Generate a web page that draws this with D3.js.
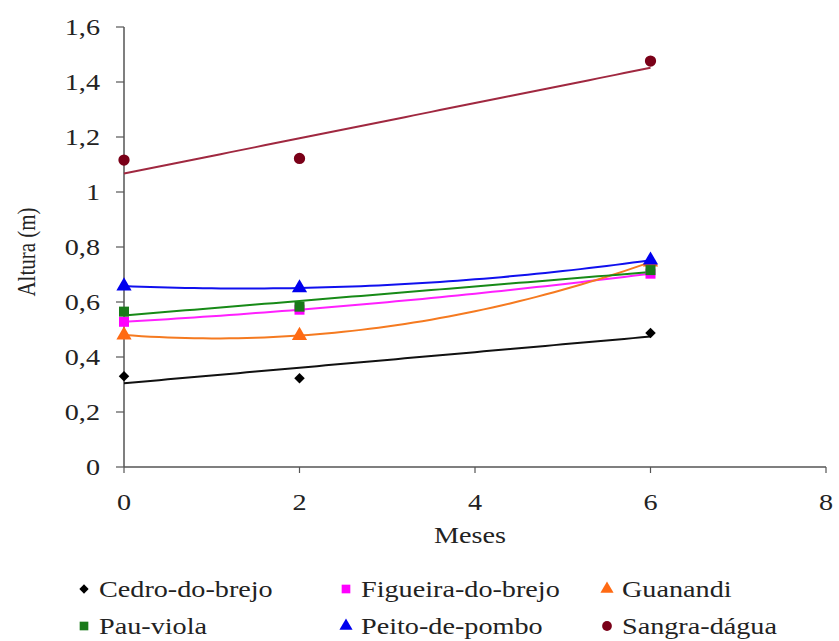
<!DOCTYPE html>
<html><head><meta charset="utf-8">
<script src="https://cdn.jsdelivr.net/npm/d3@7"></script>
<style>body{margin:0;background:#fff}</style>
</head><body>
<script>
const months = [0, 2, 6];
const seriesNames = ["Cedro-do-brejo", "Figueira-do-brejo", "Guanandi", "Pau-viola", "Peito-de-pombo", "Sangra-dágua"];
const cedro    = [0.330, 0.323, 0.487];
const figueira = [0.528, 0.572, 0.703];
const guanandi = [0.480, 0.478, 0.745];
const pauViola = [0.565, 0.583, 0.716];
const peito    = [0.658, 0.651, 0.752];
const sangra   = [1.116, 1.122, 1.476];
const xTicks = [0, 2, 4, 6, 8];
const yTicks = [0, 0.2, 0.4, 0.6, 0.8, 1, 1.2, 1.4, 1.6];
const trendOrder = [1, 2, 2, 1, 2, 1];

const values = [cedro, figueira, guanandi, pauViola, peito, sangra];
const markerColors = ["#000000", "#ff00ff", "#ff6a13", "#1a7a1a", "#0000ee", "#7a0018"];
const lineColors = ["#111111", "#ff20ff", "#f57a20", "#178a17", "#1010ee", "#a02840"];
const symbols = [d3.symbolDiamond2, d3.symbolSquare, d3.symbolTriangle, d3.symbolSquare, d3.symbolTriangle, d3.symbolCircle];

const W = 839, H = 641;
const svg = d3.select("body").append("svg").attr("width", W).attr("height", H);
const x = d3.scaleLinear().domain([0, 8]).range([124, 826]);
const y = d3.scaleLinear().domain([0, 1.6]).range([467, 27]);
const SX = 1.2;
const FS = 23.5;
const font = "'Liberation Serif','Times New Roman',serif";
const axisColor = "#555";

function stext(px, py, str, anchor, size) {
  return svg.append("text").attr("transform", `translate(${px},${py}) scale(${SX},1)`)
    .attr("text-anchor", anchor).attr("dominant-baseline", "central")
    .attr("font-family", font).attr("font-size", size).attr("fill", "#222").text(str);
}

// axes
svg.append("line").attr("x1", x(0)).attr("x2", x(8)).attr("y1", y(0)).attr("y2", y(0)).attr("stroke", axisColor).attr("stroke-width", 1.5);
svg.append("line").attr("x1", x(0)).attr("x2", x(0)).attr("y1", y(0)).attr("y2", y(1.6)).attr("stroke", axisColor).attr("stroke-width", 1.5);
yTicks.forEach(t => {
  svg.append("line").attr("x1", x(0) - 8).attr("x2", x(0)).attr("y1", y(t)).attr("y2", y(t)).attr("stroke", axisColor).attr("stroke-width", 1.2);
  stext(100, y(t), String(+t.toFixed(1)).replace(".", ","), "end", FS);
});
xTicks.forEach(t => {
  svg.append("line").attr("x1", x(t)).attr("x2", x(t)).attr("y1", y(0)).attr("y2", y(0) + 6).attr("stroke", axisColor).attr("stroke-width", 1.2);
  stext(x(t), 502, String(t), "middle", FS);
});
stext(470, 535, "Meses", "middle", FS);
svg.append("text").attr("transform", `translate(26,252) rotate(-90) scale(1,${SX})`)
  .attr("text-anchor", "middle").attr("dominant-baseline", "central")
  .attr("font-family", font).attr("font-size", 21).attr("fill", "#222").text("Altura (m)");

// polynomial least squares fit
function polyfit(xs, ys, deg) {
  const n = deg + 1;
  const A = Array.from({length: n}, () => new Array(n + 1).fill(0));
  for (let i = 0; i < n; i++) {
    for (let j = 0; j < n; j++) A[i][j] = d3.sum(xs, xv => Math.pow(xv, i + j));
    A[i][n] = d3.sum(xs.map((xv, k) => ys[k] * Math.pow(xv, i)));
  }
  for (let i = 0; i < n; i++) {
    let p = i;
    for (let r = i + 1; r < n; r++) if (Math.abs(A[r][i]) > Math.abs(A[p][i])) p = r;
    [A[i], A[p]] = [A[p], A[i]];
    for (let r = 0; r < n; r++) if (r !== i) {
      const f = A[r][i] / A[i][i];
      for (let c = i; c <= n; c++) A[r][c] -= f * A[i][c];
    }
  }
  return A.map((row, i) => row[n] / row[i]);
}

const line = d3.line().x(d => x(d[0])).y(d => y(d[1]));
values.forEach((vals, si) => {
  const coef = polyfit(months, vals, trendOrder[si]);
  const pts = d3.range(0, 6.001, 0.1).map(t => [t, coef.reduce((s, c, i) => s + c * Math.pow(t, i), 0)]);
  svg.append("path").attr("d", line(pts)).attr("fill", "none").attr("stroke", lineColors[si]).attr("stroke-width", 2);
});
values.forEach((vals, si) => {
  vals.forEach((v, i) => {
    svg.append("path").attr("d", d3.symbol().type(symbols[si]).size(symbols[si] === d3.symbolDiamond2 ? 70 : 100)())
      .attr("transform", `translate(${x(months[i])},${y(v)})`).attr("fill", markerColors[si]);
  });
});

// legend
const legX = [84, 346, 607], legY = [589, 626];
seriesNames.forEach((name, si) => {
  const lx = legX[si % 3], ly = legY[Math.floor(si / 3)];
  svg.append("path").attr("d", d3.symbol().type(symbols[si]).size(symbols[si] === d3.symbolDiamond2 ? 55 : 75)())
    .attr("transform", `translate(${lx},${ly})`).attr("fill", markerColors[si]);
  stext(lx + 15, ly, name, "start", FS);
});
</script>
</body></html>
